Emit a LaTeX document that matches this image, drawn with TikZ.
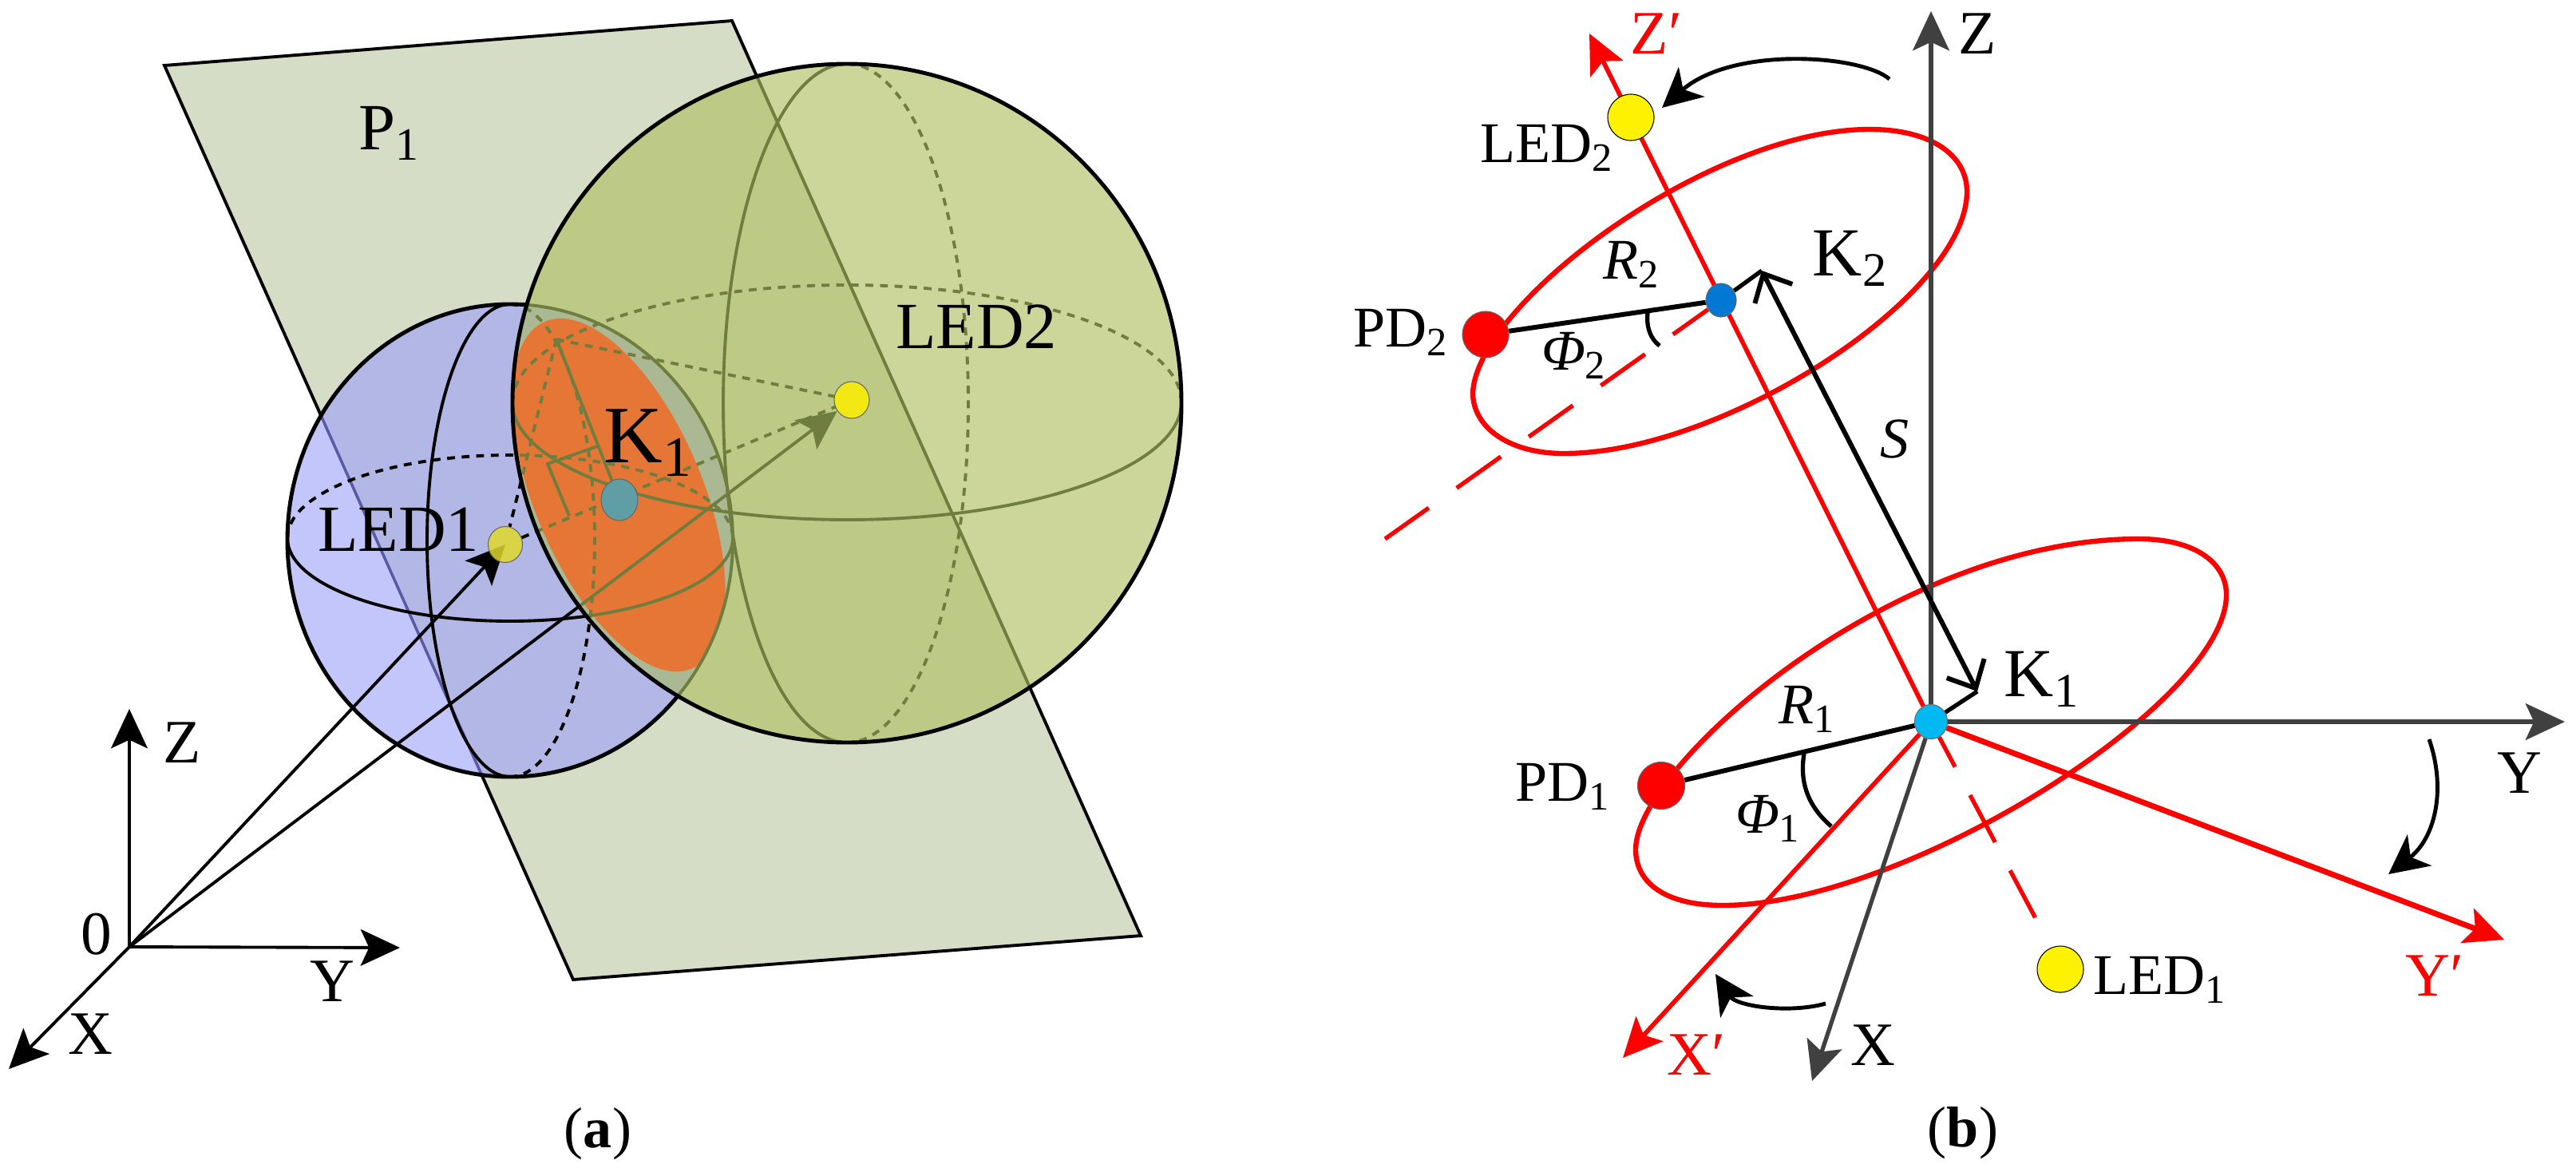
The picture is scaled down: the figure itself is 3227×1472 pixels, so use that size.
\documentclass[tikz,border=0pt]{standalone}
\usepackage{fontspec}
\setmainfont{Liberation Serif}
\usetikzlibrary{arrows.meta,backgrounds,shapes.geometric}
\definecolor{planefill}{HTML}{D6DDC6}
\definecolor{bluelight}{HTML}{C3C6FB}
\definecolor{bluedark}{HTML}{B2B7E6}
\definecolor{greenlight}{HTML}{CDD69A}
\definecolor{greendark}{HTML}{BCCA85}
\definecolor{lensfill}{HTML}{ABB894}
\definecolor{orangefill}{HTML}{E67635}
\definecolor{olive}{HTML}{6F7D3F}
\definecolor{axisgray}{HTML}{404040}
\definecolor{tealfill}{HTML}{5F9EA5}
\definecolor{skyfill}{HTML}{00B9F2}
\definecolor{seafill}{HTML}{0078D4}
\tikzset{
lab/.style={inner sep=0pt, font=\fontsize{20.5}{24}\selectfont}, % small labels
labaxis/.style={inner sep=0pt, font=\fontsize{22}{26}\selectfont}, % axis names
labk/.style={inner sep=0pt, font=\fontsize{24.5}{28}\selectfont},
labbig/.style={inner sep=0pt, font=\fontsize{23.5}{26}\selectfont},
dot/.style={ellipse, draw=black!60, line width=0.3pt, inner sep=0pt},
wire/.style={line width=1.1pt},
hidden/.style={line width=1.1pt, dash pattern=on 2.8pt off 2.4pt},
axis/.style={line width=1.1pt, -{Stealth[length=14pt,width=13pt,inset=3pt]}},
frame/.style={axis, line width=1.5pt, axisgray},
redaxis/.style={line width=1.6pt, red, -{Stealth[length=14pt,width=13pt,inset=3pt]}},
redline/.style={line width=1.5pt, red},
ring/.style={line width=1.8pt, red},
turn/.style={line width=1.4pt, -{Stealth[length=14pt,width=14pt,inset=4pt]}},
barb/.style={line width=1.7pt, {Straight Barb[length=8pt,width=15pt]}-{Straight Barb[length=8pt,width=15pt]}},
}
% wires of the small sphere, drawn once in black and once through the large sphere
\newcommand{\smallwires}[1]{%
  \begin{scope}[color=#1]
    \draw[wire] (360,674) arc[start angle=180,end angle=0,x radius=279,y radius=104];
    \draw[hidden] (360,674) arc[start angle=180,end angle=360,x radius=279,y radius=104];
    \draw[wire] (639,381) arc[start angle=270,end angle=90,x radius=104,y radius=296];
    \draw[hidden] (639,381) arc[start angle=270,end angle=450,x radius=106,y radius=296];
    \draw[hidden] (apex) -- (led_1);
    \draw[hidden] (led_1) -- (led_2);
    \draw[hidden] (apex) -- (led_2);
    \draw[axis] (o_a) -- (led_2);
  \end{scope}}
\begin{document}
\begin{tikzpicture}[x=0.01cm,y=-0.01cm]
\useasboundingbox (0,0) rectangle (3227,1472);
% panel a
\coordinate (o_a) at (162,1186);
\coordinate (z_a) at (162,888);
\coordinate (y_a) at (501,1187);
\coordinate (x_a) at (11,1339);
\coordinate (p_a) at (206,82);
\coordinate (p_b) at (917,26);
\coordinate (p_c) at (1429,1172);
\coordinate (p_d) at (718,1227);
\coordinate (apex) at (697,425);
\node[dot, fill=yellow!75!olive, fill opacity=0.85, minimum width=0.43cm, minimum height=0.45cm] (led_1) at (633,682) {};
\node[dot, fill=yellow!90!olive, minimum width=0.44cm, minimum height=0.46cm] (led_2) at (1067,501) {};
\node[dot, fill=tealfill, minimum width=0.46cm, minimum height=0.52cm] (k_0) at (776,626) {};
\node[labbig] (p_lab) at (488,167) {P\textsubscript{1}};
\node[labbig] (led2_lab) at (1223,409) {LED2};
\node[labbig] (led1_lab) at (499,663) {LED1};
\node[inner sep=0pt, font=\fontsize{29}{32}\selectfont] (k_lab) at (812,555) {K\textsubscript{1}};
\node[labaxis] (z_lab) at (228,930) {Z};
\node[labaxis] (o_lab) at (121,1170) {0};
\node[labaxis] (y_lab) at (416,1229) {Y};
\node[labaxis] (x_lab) at (113,1295) {X};
\node[lab] (a_lab) at (749,1420) {(\textbf{a})};
\begin{scope}[on background layer]
  \draw[fill=planefill, line width=1.1pt] (p_a) -- (p_b) -- (p_c) -- (p_d) -- cycle;
  \fill[bluelight] (639,677) ellipse [x radius=279,y radius=296];
  \begin{scope}
    \clip (639,677) ellipse [x radius=279,y radius=296];
    \fill[bluedark] (p_a) -- (p_b) -- (p_c) -- (p_d) -- cycle;
    \draw[line width=1pt, blue!30!gray] (p_a) -- (p_d);
  \end{scope}
  \draw[line width=1.4pt] (639,677) ellipse [x radius=279,y radius=296];
  \smallwires{black}
  \draw[axis] (o_a) -- (led_1.center);
  \path (o_a) edge[axis] (z_a) edge[axis] (y_a) edge[axis] (x_a);
  % large sphere on top
  \fill[greenlight] (1061,505) ellipse [x radius=419,y radius=425];
  \begin{scope}
    \clip (1061,505) ellipse [x radius=419,y radius=425];
    \fill[greendark] (p_a) -- (p_b) -- (p_c) -- (p_d) -- cycle;
    \draw[wire, olive] (p_b) -- (p_c);
    \begin{scope}
      \clip (639,677) ellipse [x radius=279,y radius=296];
      \fill[lensfill] (639,677) ellipse [x radius=279,y radius=296];
      \fill[orangefill, rotate around={-67:(775,620)}] (775,620) ellipse [x radius=236,y radius=105];
    \end{scope}
    \draw[wire, olive] (639,677) ellipse [x radius=279,y radius=296];
    \smallwires{olive}
    \draw[wire, olive] (642,504) arc[start angle=180,end angle=0,x radius=419,y radius=147];
    \draw[hidden, olive] (642,504) arc[start angle=180,end angle=360,x radius=419,y radius=147];
    \draw[wire, olive] (1061,80) arc[start angle=270,end angle=90,x radius=155,y radius=425];
    \draw[hidden, olive] (1061,80) arc[start angle=270,end angle=450,x radius=152,y radius=425];
    \draw[wire, olive] (apex) -- (k_0);
    \draw[wire, olive] (713,646) -- (686,581) -- (751,558);
  \end{scope}
  \draw[line width=1.4pt] (1061,505) ellipse [x radius=419,y radius=425];
\end{scope}
% panel b
\coordinate (z_tip) at (2419,14);
\coordinate (y_tip) at (3213,904);
\coordinate (x_tip) at (2270,1354);
\coordinate (zr_tip) at (1991,42);
\coordinate (yr_tip) at (3137,1177);
\coordinate (xr_tip) at (2033,1325);
\coordinate (z_dash) at (2552,1154);
\coordinate (x_dash) at (1735,675);
\coordinate (s_top) at (2207,339);
\coordinate (s_bot) at (2477,866);
\node[dot, fill=skyfill, minimum width=0.41cm, minimum height=0.43cm] (k_1) at (2419,904) {};
\node[dot, fill=seafill, minimum width=0.38cm, minimum height=0.42cm] (k_2) at (2156,376) {};
\node[dot, fill=red, minimum size=0.59cm] (pd_1) at (2081,984) {};
\node[dot, fill=red, minimum size=0.58cm] (pd_2) at (1861,419) {};
\node[dot, fill=yellow, draw=black, minimum size=0.58cm] (led_b2) at (2043,147) {};
\node[dot, fill=yellow, draw=black, minimum size=0.58cm] (led_b1) at (2581,1214) {};
\node[labaxis] (zb_lab) at (2477,42) {Z};
\node[labaxis, text=red] (zr_lab) at (2075,42) {Z′};
\node[lab] (ledb2_lab) at (1938,185) {LED\textsubscript{2}};
\node[labk] (k2_lab) at (2318,324) {K\textsubscript{2}};
\node[lab] (r2_lab) at (2044,331) {\textit{R}\textsubscript{2}};
\node[lab] (pd2_lab) at (1755,416) {PD\textsubscript{2}};
\node[lab] (ph2_lab) at (1972,445) {\textit{Φ}\textsubscript{2}};
\node[lab] (s_lab) at (2373,550) {\textit{S}};
\node[labk] (k1_lab) at (2558,851) {K\textsubscript{1}};
\node[lab] (r1_lab) at (2264,888) {\textit{R}\textsubscript{1}};
\node[lab] (pd1_lab) at (1958,985) {PD\textsubscript{1}};
\node[lab] (ph1_lab) at (2215,1025) {\textit{Φ}\textsubscript{1}};
\node[labaxis] (yb_lab) at (3156,968) {Y};
\node[labaxis, text=red] (yr_lab) at (3050,1222) {Y′};
\node[lab] (ledb1_lab) at (2706,1227) {LED\textsubscript{1}};
\node[labaxis, text=red] (xr_lab) at (2125,1321) {X′};
\node[labaxis] (xb_lab) at (2346,1309) {X};
\node[lab] (b_lab) at (2459,1419) {(\textbf{b})};
\begin{scope}[on background layer]
  \draw[ring] (2342,162) .. controls (2420,162) and (2464,195) .. (2464,240)
    .. controls (2464,370) and (2160,568) .. (1959,568)
    .. controls (1890,568) and (1845,535) .. (1845,492)
    .. controls (1850,380) and (2140,162) .. cycle;
  \draw[ring] (2679,675) .. controls (2750,675) and (2789,705) .. (2789,745)
    .. controls (2789,880) and (2387,1134) .. (2158,1134)
    .. controls (2085,1134) and (2049,1105) .. (2049,1064)
    .. controls (2049,960) and (2370,675) .. cycle;
  \path (k_1) edge[frame] (z_tip) edge[frame] (y_tip) edge[frame] (x_tip)
        edge[redaxis] (zr_tip) edge[redaxis] (xr_tip) edge[redaxis, line width=2pt] (yr_tip);
  \draw[redline, dash pattern=on 19pt off 11.4pt, dash phase=7pt] (k_1) -- (z_dash);
  \draw[redline, dash pattern=on 19.3pt off 12.2pt, dash phase=4pt] (k_2) -- (x_dash);
  \draw[line width=1.7pt] (pd_1) -- (k_1);
  \draw[line width=1.7pt] (pd_2) -- (k_2);
  \draw[line width=1.5pt] (k_2) -- (s_top);
  \draw[line width=1.5pt] (k_1) -- (s_bot);
  \draw[barb] (s_top) -- (s_bot);
  \draw[turn] (2367,99) .. controls (2330,68) and (2170,58) .. (2082,135);
  \draw[turn] (3043,926) .. controls (3065,990) and (3050,1050) .. (2992,1095);
  \draw[turn] (2287,1257) .. controls (2240,1270) and (2175,1260) .. (2149,1220);
  \draw[line width=1.5pt] (2260,944) .. controls (2254,980) and (2265,1010) .. (2294,1035);
  \draw[line width=1.5pt] (2064,392) .. controls (2062,410) and (2068,425) .. (2079,433);
\end{scope}
\end{tikzpicture}
\end{document}
